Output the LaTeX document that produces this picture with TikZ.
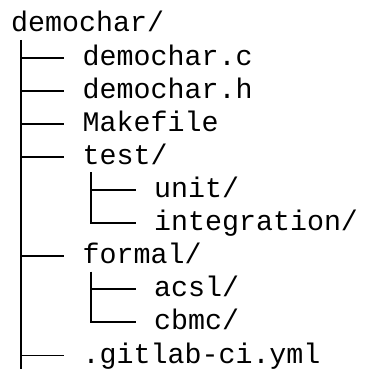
\documentclass[tikz,border=0pt]{standalone}
\usepackage{fontspec}
\newfontfamily\treefont{Liberation Mono}
\begin{document}
\begin{tikzpicture}[x=1pt,y=1pt,
  entry/.style={anchor=west,inner sep=0pt,text height=15pt,text depth=0pt,
    font=\treefont\fontsize{28.3}{34}\selectfont},
  branch/.style={line width=1.9pt,black}]
\useasboundingbox (0,0) rectangle (364,-369);
\def\dy{33.1}
% baselines: 32 + 33.1*i ; node centre = baseline - 7.5
\node[entry] (root) at (11,{-32+7.5}) {demochar/};
\node[entry] (c1) at (82.5,{-(32+1*\dy)+7.5}) {demochar.c};
\node[entry] (c2) at (82.5,{-(32+2*\dy)+7.5}) {demochar.h};
\node[entry] (c3) at (82.5,{-(32+3*\dy)+7.5}) {Makefile};
\node[entry] (c4) at (82.5,{-(32+4*\dy)+7.5}) {test/};
\node[entry] (g1) at (154,{-(32+5*\dy)+7.5}) {unit/};
\node[entry] (g2) at (154,{-(32+6*\dy)+7.5}) {integration/};
\node[entry] (c5) at (82.5,{-(32+7*\dy)+7.5}) {formal/};
\node[entry] (g3) at (154,{-(32+8*\dy)+7.5}) {acsl/};
\node[entry] (g4) at (154,{-(32+9*\dy)+7.5}) {cbmc/};
\node[entry] (c6) at (82.5,{-(32+10*\dy)+7.5}) {.gitlab-ci.yml};
% trunk
\coordinate (trunktop) at (21,-40);
\coordinate (trunkbot) at (21,-369);
\draw[branch] (trunktop) -- (trunkbot);
\foreach \n in {c1,c2,c3,c4,c5,c6}
  \draw[branch] (trunktop |- \n.west) -- ([xshift=-18.5pt]\n.west);
% test/ subtree
\coordinate (testtop) at (91,{-(32+4*\dy)-8});
\draw[branch] (testtop |- g1.west) -- ([xshift=-18.5pt]g1.west);
\draw[branch] (testtop) |- ([xshift=-18.5pt]g2.west);
% formal/ subtree
\coordinate (formaltop) at (91,{-(32+7*\dy)-8});
\draw[branch] (formaltop |- g3.west) -- ([xshift=-18.5pt]g3.west);
\draw[branch] (formaltop) |- ([xshift=-18.5pt]g4.west);
\end{tikzpicture}
\end{document}
